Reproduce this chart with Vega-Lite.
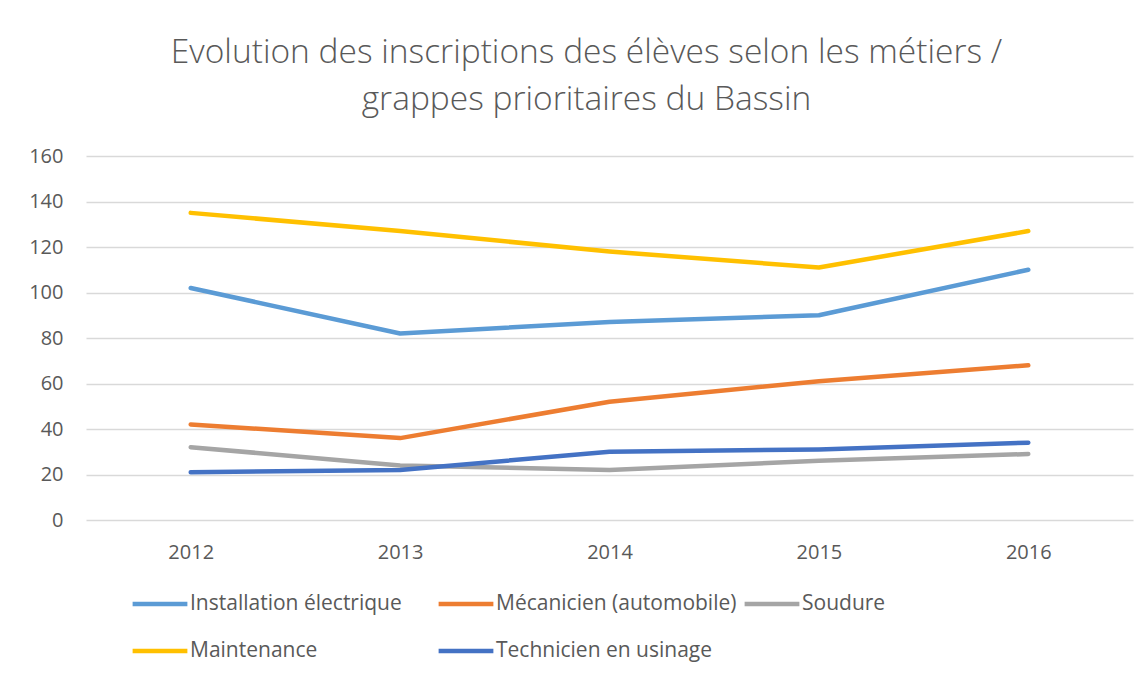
{
  "$schema": "https://vega.github.io/schema/vega-lite/v6.json",
  "width": 1047,
  "height": 364,
  "autosize": {"type": "none"},
  "padding": {"left": 86, "top": 156, "right": 13, "bottom": 155},
  "background": "white",
  "title": {
    "text": ["Evolution des inscriptions des élèves selon les métiers /", "grappes prioritaires du Bassin"],
    "anchor": "middle",
    "frame": "group",
    "dx": -23,
    "offset": 29,
    "font": "Open Sans",
    "fontSize": 33.5,
    "fontWeight": 300,
    "color": "#595959",
    "lineHeight": 47
  },
  "data": {
    "values": [
      {"annee": "2012", "metier": "Installation électrique", "n": 102},
      {"annee": "2013", "metier": "Installation électrique", "n": 82},
      {"annee": "2014", "metier": "Installation électrique", "n": 87},
      {"annee": "2015", "metier": "Installation électrique", "n": 90},
      {"annee": "2016", "metier": "Installation électrique", "n": 110},
      {"annee": "2012", "metier": "Mécanicien (automobile)", "n": 42},
      {"annee": "2013", "metier": "Mécanicien (automobile)", "n": 36},
      {"annee": "2014", "metier": "Mécanicien (automobile)", "n": 52},
      {"annee": "2015", "metier": "Mécanicien (automobile)", "n": 61},
      {"annee": "2016", "metier": "Mécanicien (automobile)", "n": 68},
      {"annee": "2012", "metier": "Soudure", "n": 32},
      {"annee": "2013", "metier": "Soudure", "n": 24},
      {"annee": "2014", "metier": "Soudure", "n": 22},
      {"annee": "2015", "metier": "Soudure", "n": 26},
      {"annee": "2016", "metier": "Soudure", "n": 29},
      {"annee": "2012", "metier": "Maintenance", "n": 135},
      {"annee": "2013", "metier": "Maintenance", "n": 127},
      {"annee": "2014", "metier": "Maintenance", "n": 118},
      {"annee": "2015", "metier": "Maintenance", "n": 111},
      {"annee": "2016", "metier": "Maintenance", "n": 127},
      {"annee": "2012", "metier": "Technicien en usinage", "n": 21},
      {"annee": "2013", "metier": "Technicien en usinage", "n": 22},
      {"annee": "2014", "metier": "Technicien en usinage", "n": 30},
      {"annee": "2015", "metier": "Technicien en usinage", "n": 31},
      {"annee": "2016", "metier": "Technicien en usinage", "n": 34}
    ]
  },
  "mark": {"type": "line", "strokeWidth": 4.5, "strokeCap": "round", "strokeJoin": "round"},
  "encoding": {
    "x": {
      "field": "annee",
      "type": "ordinal",
      "scale": {"type": "point", "padding": 0.5},
      "axis": {
        "title": null,
        "domain": false,
        "ticks": false,
        "grid": false,
        "labelAngle": 0,
        "labelPadding": 22,
        "labelFont": "Open Sans",
        "labelFontSize": 20,
        "labelColor": "#595959"
      }
    },
    "y": {
      "field": "n",
      "type": "quantitative",
      "scale": {"domain": [0, 160]},
      "axis": {
        "title": null,
        "values": [0, 20, 40, 60, 80, 100, 120, 140, 160],
        "domain": false,
        "ticks": false,
        "gridColor": "#d9d9d9",
        "gridWidth": 1.3,
        "labelPadding": 23,
        "labelFont": "Open Sans",
        "labelFontSize": 20,
        "labelColor": "#595959"
      }
    },
    "color": {
      "field": "metier",
      "type": "nominal",
      "scale": {
        "domain": ["Installation électrique", "Mécanicien (automobile)", "Soudure", "Maintenance", "Technicien en usinage"],
        "range": ["#5B9BD5", "#ED7D31", "#A5A5A5", "#FFC000", "#4472C4"]
      },
      "legend": {
        "title": null,
        "orient": "none",
        "legendX": 44,
        "legendY": 418,
        "direction": "horizontal",
        "columns": 3,
        "gridAlign": "all",
        "columnPadding": -2,
        "rowPadding": 7,
        "symbolType": "stroke",
        "symbolSize": 3000,
        "symbolStrokeWidth": 4.5,
        "labelOffset": 0,
        "labelFont": "Open Sans",
        "labelFontSize": 21,
        "labelColor": "#595959",
        "labelLimit": 400
      }
    }
  },
  "config": {"view": {"stroke": null}}
}
